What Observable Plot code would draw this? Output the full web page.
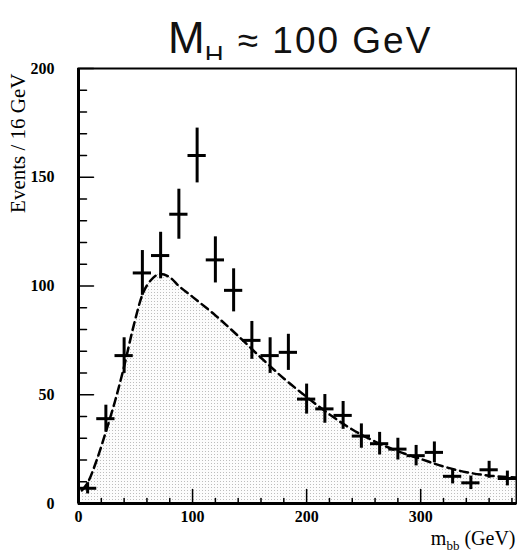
<!DOCTYPE html>
<html><head><meta charset="utf-8">
<script src="https://cdn.jsdelivr.net/npm/d3@7"></script>
<script src="https://cdn.jsdelivr.net/npm/@observablehq/plot@0.6"></script>
<style>
body{margin:0;background:#fff;width:517px;height:557px;overflow:hidden;position:relative;}
#title{position:absolute;left:168px;top:16px;font-family:"Liberation Sans";font-size:37px;letter-spacing:2px;white-space:nowrap;line-height:1;color:#111;}
#title .big{font-size:44px;letter-spacing:0;}
#title sub{font-size:26px;vertical-align:-11px;}
#chart{position:absolute;left:0;top:60px;}
</style></head><body>
<div id="title"><span class="big">M</span><sub>H</sub> ≈ 100 GeV</div>
<div id="chart"></div>
<script>
// measured data (Events per 16 GeV bin)
const binCenters = [8, 24, 40, 56, 72, 88, 104, 120, 136, 152, 168, 184, 200, 216, 232, 248, 264, 280, 296, 312, 328, 344, 360, 376];
const events     = [7, 39, 68, 106, 114, 133, 160, 112, 98, 75, 68, 69.5, 48, 43.5, 40.5, 31, 27.5, 25, 22, 23.5, 12.5, 9.5, 15.5, 11.5];
const errors     = [2.6, 6.2, 8.2, 10.3, 10.7, 11.5, 12.6, 10.6, 9.9, 8.7, 8.2, 8.3, 6.9, 6.6, 6.4, 5.6, 5.2, 5.0, 4.7, 4.8, 3.5, 3.1, 3.9, 3.4];
const binHalfWidth = 8;
// background expectation (dashed curve)
const curveMass   = [3, 8, 16, 24, 32, 40, 48, 56, 64, 72, 80, 88, 100, 120, 140, 160, 180, 200, 220, 240, 260, 280, 300, 320, 340, 360, 384];
const curveEvents = [6, 9.5, 20, 33, 47, 63, 81, 96, 103, 105.5, 104, 100, 95, 86.5, 77, 67, 57.5, 49, 41, 34, 28.5, 24, 20.5, 17, 14.4, 12.8, 12];
// axis ticks
const xTickLabels = [0, 100, 200, 300];
const xMinorTicks = [20, 40, 60, 80, 120, 140, 160, 180, 220, 240, 260, 280, 320, 340, 360, 380];
const yTickLabels = [0, 50, 100, 150, 200];
const yMinorTicks = [10, 20, 30, 40, 60, 70, 80, 90, 110, 120, 130, 140, 160, 170, 180, 190];
const yTitle = "Events / 16 GeV";

const points = binCenters.map((x, i) => ({x, y: events[i], e: errors[i]}));
const curve = curveMass.map((x, i) => ({x, y: curveEvents[i]}));

// inward tick shape (a plain line of the given length)
const tickShape = {draw(context, l) { context.moveTo(0, 0); context.lineTo(0, -l); }};

const chart = Plot.plot({
  width: 517, height: 497,
  marginTop: 8, marginBottom: 54, marginLeft: 78, marginRight: 1,
  x: {domain: [0, 384]},
  y: {domain: [0, 200]},
  style: {fontFamily: "Liberation Serif", fontSize: "16px", fontWeight: "bold", color: "#000", background: "#fff"},
  marks: [
    Plot.areaY(curve, {x: "x", y: "y", curve: "monotone-x", fill: "url(#stipple)"}),
    Plot.lineY(curve, {x: "x", y: "y", curve: "monotone-x", stroke: "#000", strokeWidth: 2.5, strokeDasharray: "8,5"}),
    Plot.ruleX(points, {x: "x", y1: d => d.y - d.e, y2: d => d.y + d.e, stroke: "#000", strokeWidth: 3}),
    Plot.ruleY(points, {y: "y", x1: d => d.x - binHalfWidth, x2: d => d.x + binHalfWidth, stroke: "#000", strokeWidth: 3}),
    Plot.frame({stroke: "#000", strokeWidth: 2}),
    Plot.ruleX([0], {stroke: "#000", strokeWidth: 3}),
    Plot.ruleY([0], {stroke: "#000", strokeWidth: 3}),
    Plot.vector(xMinorTicks, {x: d => d, frameAnchor: "bottom", length: 5, rotate: 0, anchor: "start", shape: tickShape, stroke: "#000", strokeWidth: 1.5}),
    Plot.vector(xTickLabels, {x: d => d, frameAnchor: "bottom", length: 14, rotate: 0, anchor: "start", shape: tickShape, stroke: "#000", strokeWidth: 1.5}),
    Plot.vector(yMinorTicks, {y: d => d, frameAnchor: "left", length: 8, rotate: 90, anchor: "start", shape: tickShape, stroke: "#000", strokeWidth: 1.5}),
    Plot.vector(yTickLabels, {y: d => d, frameAnchor: "left", length: 15, rotate: 90, anchor: "start", shape: tickShape, stroke: "#000", strokeWidth: 1.5}),
    Plot.axisX({ticks: xTickLabels, tickSize: 0, tickPadding: 7, label: null}),
    Plot.axisY({ticks: yTickLabels, tickSize: 0, tickPadding: 24, label: null}),
    Plot.text([yTitle], {frameAnchor: "top-left", rotate: -90, textAnchor: "end", dx: -68, dy: 5, fontSize: 21, fontWeight: "normal"}),
    Plot.text(["m"], {frameAnchor: "bottom-right", textAnchor: "end", dx: -1, dy: 41, fontSize: 20, fontWeight: "normal", className: "xlabel"})
  ]
});

// stipple pattern for the shaded background area
const svg = d3.select(chart);
const defs = svg.insert("defs", ":first-child");
const pat = defs.append("pattern").attr("id", "stipple").attr("width", 3).attr("height", 3).attr("patternUnits", "userSpaceOnUse");
pat.append("rect").attr("width", 3).attr("height", 3).attr("fill", "#fcfcfc");
pat.append("rect").attr("x", 1).attr("y", 1).attr("width", 1).attr("height", 1).attr("fill", "#bdbdbd");

// x title with subscript
const xl = svg.select(".xlabel text");
xl.text(null);
xl.append("tspan").text("m");
xl.append("tspan").attr("dy", 5).attr("font-size", 13).text("bb");
xl.append("tspan").attr("dy", -5).text(" (GeV)");

document.getElementById("chart").appendChild(chart);
</script>
</body></html>
